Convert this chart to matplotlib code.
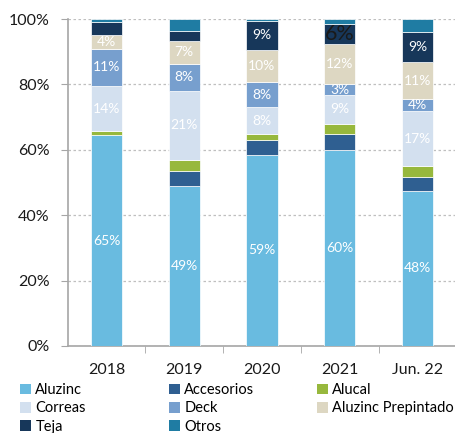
import matplotlib
matplotlib.use('Agg')
import matplotlib.pyplot as plt
from matplotlib.patches import Patch
from matplotlib.ticker import FuncFormatter

plt.rcParams['font.family'] = ['Lato', 'DejaVu Sans']

categories = ['2018', '2019', '2020', '2021', 'Jun. 22']

series_names = ['Aluzinc', 'Accesorios', 'Alucal', 'Correas', 'Deck',
                'Aluzinc Prepintado', 'Teja', 'Otros']
aluzinc = [64.5, 49, 58.5, 60, 47.5]
accesorios = [0, 4.5, 4.6, 4.9, 4.3]
alucal = [1.2, 3.5, 1.6, 3.1, 3.1]
correas = [13.8, 21, 8.4, 8.7, 17]
deck = [11.4, 8.3, 7.5, 3.4, 3.6]
prepintado = [4.3, 7, 9.9, 12.4, 11.3]
teja = [4, 3, 9, 5.9, 9.2]
otros = [0.8, 3.7, 0.5, 1.6, 4]

labels_aluzinc = ['65%', '49%', '59%', '60%', '48%']
labels_correas = ['14%', '21%', '8%', '9%', '17%']
labels_deck = ['11%', '8%', '8%', '3%', '4%']
labels_prepintado = ['4%', '7%', '10%', '12%', '11%']
labels_teja = [None, None, '9%', '6%', '9%']

colors = ['#69BBE0', '#2F5F91', '#97B83D', '#D3E0EF', '#779FCE',
          '#DDD7C2', '#17375A', '#1F7CA3']

values = [aluzinc, accesorios, alucal, correas, deck, prepintado, teja, otros]
labels = [labels_aluzinc, None, None, labels_correas, labels_deck,
          labels_prepintado, labels_teja, None]

fig = plt.figure(figsize=(4.56, 4.33), dpi=100)
ax = fig.add_axes([0.1485, 0.201, 0.852, 0.755])

x = list(range(len(categories)))
bottom = [0] * len(categories)
for vals, col, labs in zip(values, colors, labels):
    ax.bar(x, vals, bottom=bottom, width=0.4, color=col,
           edgecolor='white', linewidth=0.5, zorder=3)
    if labs is not None:
        for i, lab in enumerate(labs):
            if lab is None:
                continue
            yc = bottom[i] + vals[i] / 2
            if lab == '6%' and categories[i] == '2021':
                ax.text(x[i], yc, lab, ha='center', va='center',
                        color='#1a1a1a', fontsize=15.5, zorder=4)
            else:
                ax.text(x[i], yc, lab, ha='center', va='center',
                        color='white', fontsize=10, zorder=4)
    bottom = [b + v for b, v in zip(bottom, vals)]

ax.set_xlim(-0.5, 4.5)
ax.set_ylim(0, 100)
ax.set_yticks([0, 20, 40, 60, 80, 100])
ax.yaxis.set_major_formatter(FuncFormatter(lambda v, p: f'{int(v)}%'))
ax.set_xticks(x)
ax.set_xticklabels(categories)
ax.set_xticks([0.5, 1.5, 2.5, 3.5], minor=True)
ax.tick_params(axis='x', which='major', length=0, pad=12.5, labelsize=11.5,
               colors='#1a1a1a')
ax.tick_params(axis='x', which='minor', length=5, color='#A6A6A6')
ax.tick_params(axis='y', length=5, color='#A6A6A6', labelsize=11.5,
               labelcolor='#1a1a1a', pad=8)

for s in ['top', 'right']:
    ax.spines[s].set_visible(False)
for s in ['left', 'bottom']:
    ax.spines[s].set_color('#A6A6A6')
    ax.spines[s].set_linewidth(1.2)

ax.yaxis.grid(True, linestyle=(0, (2, 2)), color='#BFBFBF', linewidth=0.9,
              zorder=0)
ax.set_axisbelow(True)

# legend: three columns placed separately so they are evenly spaced
handles = [Patch(facecolor=c, label=n) for c, n in zip(colors, series_names)]
columns = [[0, 3, 6], [1, 4, 7], [2, 5]]
col_x = [20 / 456, 169 / 456, 317 / 456]
for cx, idx in zip(col_x, columns):
    fig.legend([handles[i] for i in idx], [series_names[i] for i in idx],
               loc='upper left', bbox_to_anchor=(cx, 1 - 383 / 433),
               frameon=False, fontsize=10.5, handlelength=0.75,
               handleheight=0.75, handletextpad=0.3, labelspacing=0.3,
               borderaxespad=0, borderpad=0)

fig.savefig('out.png', dpi=100)
